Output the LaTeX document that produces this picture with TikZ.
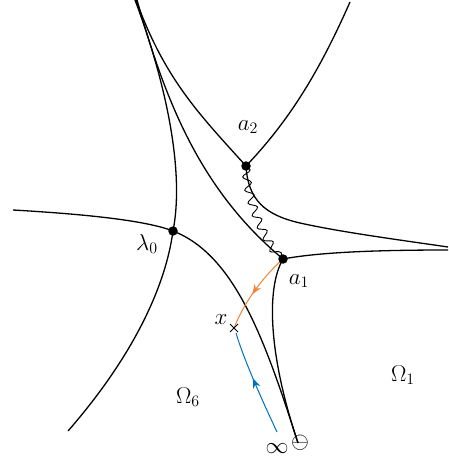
\documentclass[tikz,border=0pt]{standalone}
\usetikzlibrary{decorations.pathmorphing,decorations.markings,arrows.meta,calc}
\definecolor{myorange}{RGB}{242,133,55}
\definecolor{myblue}{RGB}{0,114,189}
\tikzset{
  curve/.style={line width=1.3pt, black},
  dot/.style={circle, fill=black, inner sep=0pt, minimum size=9.5pt},
  lab/.style={font=\fontsize{17.28}{20}\selectfont, inner sep=0pt, scale=1.33},
  wavy/.style={line width=0.9pt, decorate, decoration={snake, segment length=13pt, amplitude=4pt}},
  midarrow/.style={decoration={markings, mark=at position #1 with {\arrow{Stealth[length=10pt,width=7.5pt]}}}, postaction={decorate}},
}
\begin{document}
\begin{tikzpicture}[x=1pt,y=-1pt]
\useasboundingbox (0,0) rectangle (448,457);
\coordinate (a2) at (246,166);
\coordinate (l0) at (173,231);
\coordinate (a1) at (283,259);
\coordinate (B) at (298,443);
\coordinate (xp) at (234,328);
\coordinate (inf) at (277,432);
\coordinate (T1) at (136,0);
\coordinate (T2) at (137,0);
\coordinate (T3) at (135,0);
% curves
\draw[curve] (T1) .. controls (165,80) and (200,115) .. (a2);
\draw[curve] (a2) .. controls (290,120) and (320,70) .. (350,2);
\draw[curve] (T2) .. controls (165,100) and (200,190) .. (a1);
\draw[curve] (T3) .. controls (165,80) and (185,170) .. (l0);
\draw[curve] (l0) .. controls (165,290) and (130,360) .. (68,431);
\draw[curve] (13,210) .. controls (100,215) and (150,222) .. (l0);
\draw[curve] (l0) .. controls (235,255) and (265,340) .. (B);
\draw[curve] (a1) .. controls (265,290) and (270,360) .. (B);
\draw[curve] (a2) .. controls (248,200) and (265,215) .. (300,223) .. controls (340,232) and (400,240) .. (448,247);
\draw[curve] (a1) .. controls (320,252) and (380,250) .. (448,250);
% wavy
\draw[wavy] (a2) .. controls (247,195) and (262,235) .. (a1);
% orange and blue
\draw[myorange, line width=1pt, midarrow=0.55] (a1) .. controls (265,275) and (245,300) .. (xp);
\draw[myblue, line width=1pt, midarrow=0.55] (inf) .. controls (262,400) and (244,360) .. (236,333);
% x marker
\draw[line width=1pt] ($(xp)+(-4,-4)$) -- ($(xp)+(4,4)$) ($(xp)+(-4,4)$) -- ($(xp)+(4,-4)$);
% dots
\node[dot] (na2) at (a2) {};
\node[dot] (nl0) at (l0) {};
\node[dot] (na1) at (a1) {};
% labels
\node[lab] (la2) at (248,127) {$a_2$};
\node[lab] (ll0) at (147,244) {$\lambda_0$};
\node[lab] (la1) at (299,281) {$a_1$};
\node[lab] (lx) at (221,320) {$x$};
\node[lab] (lO6) at (188,397) {$\Omega_6$};
\node[lab] (lO1) at (403,375) {$\Omega_1$};
\node[lab] (linf) at (277,449) {$\infty$};
\node[lab] (lom) at (300,443) {$\ominus$};
\end{tikzpicture}
\end{document}
